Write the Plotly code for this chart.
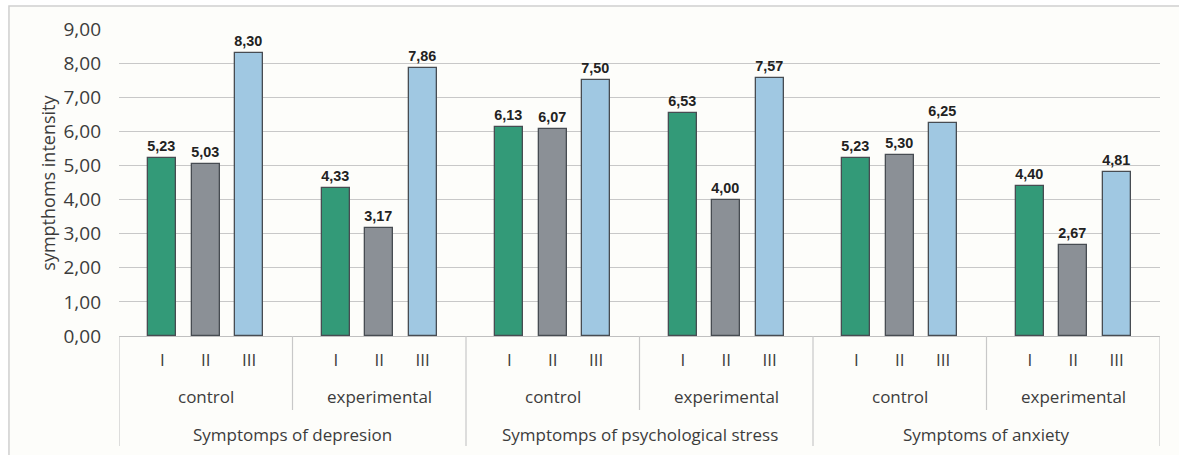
import plotly.graph_objects as go

# Symptom areas, study groups and measurement points
symptoms = ["Symptomps of depresion", "Symptomps of psychological stress", "Symptoms of anxiety"]
groups = ["control", "experimental"]
measurements = ["I", "II", "III"]

# Mean symptom intensity, one row per (symptom, group), columns I, II, III
values = [
    [5.23, 5.03, 8.30],  # depresion / control
    [4.33, 3.17, 7.86],  # depresion / experimental
    [6.13, 6.07, 7.50],  # stress / control
    [6.53, 4.00, 7.57],  # stress / experimental
    [5.23, 5.30, 6.25],  # anxiety / control
    [4.40, 2.67, 4.81],  # anxiety / experimental
]

y_ticks = [0, 1, 2, 3, 4, 5, 6, 7, 8, 9]

colors = ["#339a78", "#8b9096", "#a0c8e2"]
text_color = "#3c3c3c"

# Each group occupies 4 slots on the category axis; bars sit at slots 1..3
slots = len(measurements) + 1
n_groups = len(symptoms) * len(groups)

fig = go.Figure()
for m_idx, m in enumerate(measurements):
    xs = [g * slots + m_idx + 1 for g in range(n_groups)]
    ys = [row[m_idx] for row in values]
    fig.add_trace(go.Bar(
        x=xs, y=ys, name=m,
        width=0.645,
        marker=dict(color=colors[m_idx], line=dict(color="#474c52", width=1.3)),
        texttemplate="%{y:.2f}",
        textposition="outside",
        textfont=dict(family="Liberation Sans, Arial", size=17, color="#222222", weight="bold"),
        cliponaxis=False,
        showlegend=False,
    ))

tickvals = [g * slots + k + 1 for g in range(n_groups) for k in range(len(measurements))]
ticktext = [measurements[k] for g in range(n_groups) for k in range(len(measurements))]

fig.update_layout(
    width=1179, height=455,
    margin=dict(l=119, r=19, t=29, b=119),
    paper_bgcolor="white",
    plot_bgcolor="rgba(0,0,0,0)",
    separators=",.",
    bargap=0,
    font=dict(family="Open Sans", size=17, color=text_color),
    xaxis=dict(
        range=[0, n_groups * slots],
        tickvals=tickvals, ticktext=ticktext,
        showgrid=False, zeroline=False, showline=False,
        ticks="", ticklabelstandoff=12,
        tickfont=dict(family="Open Sans", size=17, color=text_color),
    ),
    yaxis=dict(
        range=[0, 9],
        tickvals=y_ticks, tickformat=".2f",
        showgrid=True, gridcolor="#c8c8c8", gridwidth=1,
        zeroline=True, zerolinecolor="#c0c0c0", zerolinewidth=1,
        showline=False, ticks="", ticklabelstandoff=17,
        tickfont=dict(family="Open Sans", size=19, color=text_color),
    ),
)

# Outer chart frame
shapes = [
    dict(type="rect", xref="paper", yref="paper", x0=-0.1057, x1=1.2, y0=-0.6, y1=1.075,
         fillcolor="#fdfdfa", line=dict(color="#cfcfcf", width=1.5), layer="below"),
]

# Category-axis separators: short ones between groups, long ones between symptoms
for g in range(n_groups + 1):
    x = g * slots
    long_line = (g % len(groups) == 0)
    shapes.append(dict(
        type="line", xref="x", yref="paper", x0=x, x1=x, y0=0,
        y1=-0.358 if long_line else -0.241,
        line=dict(color="#c8c8c8", width=1.2),
    ))
fig.update_layout(shapes=shapes)

annotations = []
for s_idx, s in enumerate(symptoms):
    for g_idx, g in enumerate(groups):
        idx = s_idx * len(groups) + g_idx
        annotations.append(dict(
            x=idx * slots + slots / 2, xref="x", y=-0.198, yref="paper",
            xanchor="center", yanchor="middle",
            text=g, showarrow=False, font=dict(size=17, color=text_color),
        ))
    annotations.append(dict(
        x=(s_idx * len(groups) + 1) * slots, xref="x", y=-0.322, yref="paper",
        xanchor="center", yanchor="middle",
        text=s, showarrow=False, font=dict(size=17, color=text_color),
    ))

annotations.append(dict(
    x=-0.069, xref="paper", y=0.5, yref="paper", textangle=-90,
    xanchor="center", yanchor="middle",
    text="sympthoms intensity", showarrow=False,
    font=dict(size=18, color=text_color),
))
fig.update_layout(annotations=annotations)

fig.write_html("out.html")
